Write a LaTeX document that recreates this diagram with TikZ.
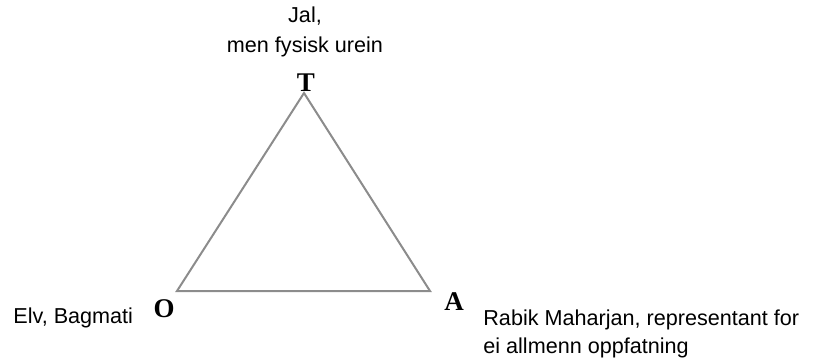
\documentclass[tikz,border=0pt]{standalone}
\usepackage{fontspec}
\setmainfont{Liberation Sans}
\newfontfamily\cornerfont{Liberation Serif}
\usetikzlibrary{positioning}
\definecolor{edgeGray}{HTML}{8C8C8C}
\definecolor{ink}{HTML}{000000}

\begin{document}
\begin{tikzpicture}[x=0.5pt, y=-0.5pt, font=\fontsize{10.8}{14}\selectfont,
  corner/.style={font=\cornerfont\bfseries\fontsize{13.5}{14}\selectfont, anchor=base, inner sep=0pt, color=ink},
  caption/.style={anchor=base, inner sep=0pt, color=ink}]
\useasboundingbox (0,0) rectangle (821,360);
% triangle corners
\coordinate (top) at (304,93);
\coordinate (left) at (177,291);
\coordinate (right) at (430,291);
\draw[edgeGray, line width=1pt] (top) -- (left) -- (right) -- cycle;
% corner letters
\node[corner] (T) at (306,91) {T};
\node[corner] (O) at (164,317) {O};
\node[corner] (A) at (454,310) {A};
% captions (base = last line)
\node[caption, align=center] (jal) at (305,52) {Jal,\\[1pt]men fysisk urein};
\node[caption, anchor=base west] (elv) at (13,323) {Elv, Bagmati};
\node[caption, anchor=base west, align=left] (rabik) at (483,353) {Rabik Maharjan, representant for\\ei allmenn oppfatning};
\end{tikzpicture}
\end{document}
